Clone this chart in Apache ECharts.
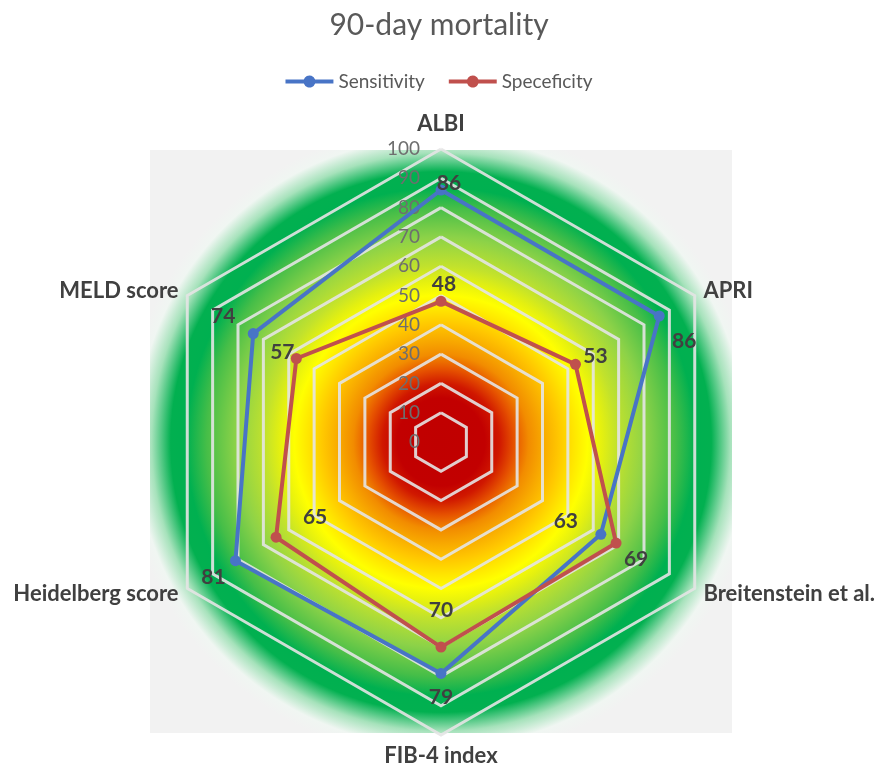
<!DOCTYPE html>
<html><head><meta charset="utf-8">
<script src="https://cdn.jsdelivr.net/npm/echarts@6/dist/echarts.min.js"></script>
<style>html,body{margin:0;padding:0;background:#fff}#c{width:878px;height:769px}</style>
</head><body><div id="c"></div>
<script>
// ---- data ----
const indicators = ['ALBI', 'MELD score', 'Heidelberg score', 'FIB-4 index', 'Breitenstein et al.', 'APRI'];
const seriesNames = ['Sensitivity', 'Speceficity'];
const sensitivity = [86, 74, 81, 79, 63, 86];
const specificity = [48, 57, 65, 70, 69, 53];
const axisMin = 0;
const axisMax = 100;
const axisSplits = 10;

// ---- presentation ----
const FONT = 'Lato, "Open Sans", sans-serif';
const colors = ['#4874c6', '#c0504d'];
const sensOffsets = [[8, -7], [-30, -17], [-22, 17], [0, 24], [-35, -13], [25, 25]];
const specOffsets = [[3, -17], [-14, -6], [39, -20], [0, -37], [20, 16], [20, -8]];

function labelItems(vals, offs, tag) {
  return vals.map((v, i) => ({
    name: tag + '_' + i,
    value: vals.map((w, j) => (j === i ? w : '-')),
    symbol: 'circle',
    symbolSize: 1,
    itemStyle: { color: 'rgba(0,0,0,0)' },
    lineStyle: { width: 0, opacity: 0 },
    label: {
      show: true, position: 'inside', offset: offs[i],
      color: '#404040', fontWeight: 'bold', fontSize: 21, fontFamily: FONT
    }
  }));
}

const legendIcon = 'path://M0,4L18.34,4A6,6,0,0,1,29.66,4L48,4L48,8L29.66,8A6,6,0,0,1,18.34,8L0,8Z';

const chart = echarts.init(document.getElementById('c'), null, { renderer: 'canvas' });
const bgGradient = new echarts.graphic.RadialGradient(441, 442, 318, [
  { offset: 0, color: '#c00000' },
  { offset: 0.138, color: '#c20000' },
  { offset: 0.184, color: '#d01800' },
  { offset: 0.23, color: '#e65200' },
  { offset: 0.276, color: '#f28c00' },
  { offset: 0.322, color: '#f8aa00' },
  { offset: 0.369, color: '#ffc600' },
  { offset: 0.415, color: '#ffe400' },
  { offset: 0.461, color: '#ffff00' },
  { offset: 0.507, color: '#e4f010' },
  { offset: 0.553, color: '#c2e22c' },
  { offset: 0.645, color: '#8cd248' },
  { offset: 0.737, color: '#46be48' },
  { offset: 0.80, color: '#00b050' },
  { offset: 0.85, color: '#02b050' },
  { offset: 0.91, color: '#a6e2bb' },
  { offset: 0.96, color: '#f0f6f2' },
  { offset: 1, color: '#f2f2f2' }
], true);

chart.setOption({
  animation: false,
  title: {
    text: '90-day mortality', left: 'center', top: 5,
    textStyle: { fontSize: 30, fontWeight: 'normal', color: '#595959', fontFamily: FONT }
  },
  legend: {
    data: seriesNames, top: 67, left: 'center',
    icon: legendIcon, itemWidth: 48, itemHeight: 12, itemGap: 24,
    itemStyle: { borderWidth: 0 },
    textStyle: { fontSize: 19, color: '#595959', fontFamily: FONT }
  },
  graphic: [{
    type: 'rect', silent: true, z: -10,
    shape: { x: 150, y: 150, width: 582, height: 583 },
    style: { fill: bgGradient }
  }],
  radar: {
    z: 1,
    center: [441, 442], radius: 293, startAngle: 90, shape: 'polygon',
    splitNumber: axisSplits,
    indicator: indicators.map((n, i) => {
      const o = { name: n, min: axisMin, max: axisMax };
      if (i === 0) o.axisLabel = { show: true };
      return o;
    }),
    nameGap: 10,
    axisName: {
      color: '#404040', fontWeight: 'bold', fontSize: 22, fontFamily: FONT,
      formatter: (name) => (name === indicators[0] ? '{top|' + name + '}' : name),
      rich: { top: { color: '#404040', fontWeight: 'bold', fontSize: 22, fontFamily: FONT, padding: [0, 0, 4, 0] } }
    },
    axisLine: { show: false },
    axisTick: { show: false },
    axisLabel: { show: false, color: '#6e6e6e', fontSize: 19, margin: 21, fontFamily: FONT },
    splitLine: { lineStyle: { color: 'rgba(228,228,228,0.9)', width: 3 } },
    splitArea: { show: false }
  },
  series: [
    {
      type: 'radar', z: 2,
      data: [
        { name: seriesNames[0], value: sensitivity, symbol: 'circle', symbolSize: 11,
          itemStyle: { color: colors[0] }, lineStyle: { color: colors[0], width: 4 } },
        { name: seriesNames[1], value: specificity, symbol: 'circle', symbolSize: 11,
          itemStyle: { color: colors[1] }, lineStyle: { color: colors[1], width: 4 } }
      ]
    },
    {
      type: 'radar', z: 3, silent: true,
      data: labelItems(sensitivity, sensOffsets, 's').concat(labelItems(specificity, specOffsets, 'p'))
    }
  ]
});
</script>
</body></html>
